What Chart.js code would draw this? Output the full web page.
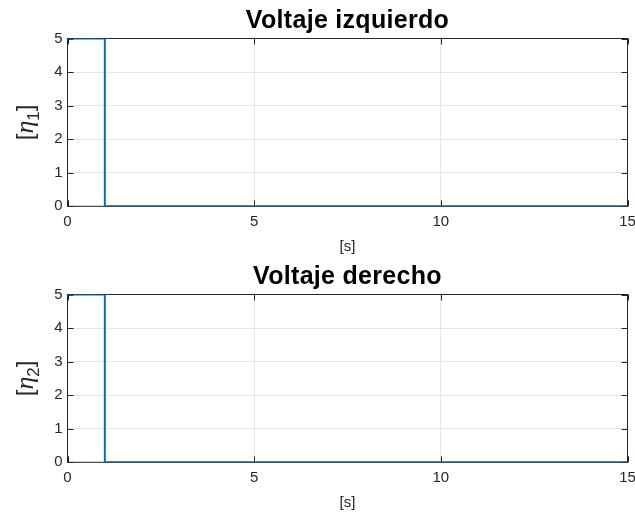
<!DOCTYPE html>
<html>
<head>
<meta charset="utf-8">
<script src="https://cdn.jsdelivr.net/npm/chart.js@4"></script>
<style>
  html, body { margin: 0; padding: 0; background: #fff; }
  #fig { position: relative; width: 635px; height: 516px; }
  canvas { position: absolute; left: 0; }
  #izq { top: 0; }
  #der { top: 256px; }
</style>
</head>
<body>
<div id="fig">
  <canvas id="izq" width="635" height="258"></canvas>
  <canvas id="der" width="635" height="258"></canvas>
</div>
<script>
// Signal samples (time in s, voltage)
const tiempo = [0, 1, 1, 15];
const voltajeIzq = [5, 5, 0, 0];
const voltajeDer = [5, 5, 0, 0];

// Axis ticks
const ticksX = [0, 5, 10, 15];
const ticksY = [0, 1, 2, 3, 4, 5];

const titulos = ['Voltaje izquierdo', 'Voltaje derecho'];
const subindices = ['1', '2'];

const AXIS_COLOR = '#262626';
const GRID_COLOR = '#e6e6e6';
const LINE_COLOR = '#0072BD';
const FONT = '"Liberation Sans", Arial, Helvetica, sans-serif';

// Box around the axes, inward tick marks, title and y label
const ejesPlugin = {
    id: 'ejes',
    beforeDatasetsDraw(chart) {
        const { ctx, chartArea: a, scales } = chart;
        ctx.save();
        ctx.strokeStyle = AXIS_COLOR;
        ctx.lineWidth = 1;
        ctx.strokeRect(a.left, a.top, a.right - a.left, a.bottom - a.top);
        const len = 6;
        ctx.beginPath();
        ticksX.forEach(v => {
            const x = Math.round(scales.x.getPixelForValue(v)) + 0.5;
            ctx.moveTo(x, a.bottom); ctx.lineTo(x, a.bottom - len);
            ctx.moveTo(x, a.top); ctx.lineTo(x, a.top + len);
        });
        ticksY.forEach(v => {
            const y = Math.round(scales.y.getPixelForValue(v)) + 0.5;
            ctx.moveTo(a.left, y); ctx.lineTo(a.left + len, y);
            ctx.moveTo(a.right, y); ctx.lineTo(a.right - len, y);
        });
        ctx.stroke();
        ctx.restore();
    },
    afterDraw(chart, args, opts) {
        const { ctx, chartArea: a } = chart;
        const cx = (a.left + a.right) / 2;
        ctx.save();
        // title
        ctx.fillStyle = '#000';
        ctx.font = 'bold 25px ' + FONT;
        ctx.letterSpacing = '0.3px';
        ctx.textAlign = 'center';
        ctx.textBaseline = 'alphabetic';
        ctx.fillText(opts.titulo, cx, 27.5);
        ctx.letterSpacing = '0px';

        // y label: [η_n], rotated
        const cy = (a.top + a.bottom) / 2;
        const fBr = '24px ' + FONT;
        const fEta = 'italic 26px "Liberation Serif", "DejaVu Serif", serif';
        const fSub = '17px ' + FONT;
        const parts = [
            { t: '[', f: fBr, dy: 0 },
            { t: 'η', f: fEta, dy: 0 },
            { t: opts.sub, f: fSub, dy: 6 },
            { t: ']', f: fBr, dy: 0 }
        ];
        let total = 0;
        parts.forEach(p => { ctx.font = p.f; p.w = ctx.measureText(p.t).width; total += p.w; });
        ctx.translate(33, cy);
        ctx.rotate(-Math.PI / 2);
        ctx.fillStyle = AXIS_COLOR;
        ctx.textAlign = 'left';
        let x = -total / 2;
        parts.forEach(p => {
            ctx.font = p.f;
            ctx.fillText(p.t, x, p.dy);
            x += p.w;
        });
        ctx.restore();
    }
};

function graficar(id, valores, titulo, sub) {
    const puntos = tiempo.map((t, i) => ({ x: t, y: valores[i] }));
    return new Chart(document.getElementById(id), {
        type: 'line',
        data: {
            datasets: [{
                data: puntos,
                borderColor: LINE_COLOR,
                borderWidth: 2,
                pointRadius: 0,
                fill: false,
                tension: 0
            }]
        },
        options: {
            responsive: false,
            animation: false,
            events: [],
            layout: { padding: { left: 0, right: 7.5, top: 38.5, bottom: 0 } },
            plugins: {
                legend: { display: false },
                tooltip: { enabled: false },
                ejes: { titulo: titulo, sub: sub }
            },
            scales: {
                x: {
                    type: 'linear',
                    min: 0, max: 15,
                    afterBuildTicks(scale) { scale.ticks = ticksX.map(v => ({ value: v })); },
                    afterFit(scale) {
                        scale.height = 51.7;
                        scale.paddingLeft = 0;
                        scale.paddingRight = 0;
                    },
                    grid: { color: GRID_COLOR, drawTicks: false },
                    border: { display: false },
                    ticks: { color: AXIS_COLOR, padding: 7, maxRotation: 0, font: { family: FONT, size: 15 } },
                    title: {
                        display: true, text: '[s]', color: AXIS_COLOR,
                        font: { family: FONT, size: 15 },
                        padding: { top: 0, bottom: 2 }
                    }
                },
                y: {
                    type: 'linear',
                    min: 0, max: 5,
                    afterBuildTicks(scale) { scale.ticks = ticksY.map(v => ({ value: v })); },
                    afterFit(scale) {
                        scale.width = 67.5;
                        scale.paddingTop = 0;
                        scale.paddingBottom = 0;
                    },
                    grid: { color: GRID_COLOR, drawTicks: false },
                    border: { display: false },
                    ticks: { color: AXIS_COLOR, padding: 5, font: { family: FONT, size: 15 } }
                }
            }
        },
        plugins: [ejesPlugin]
    });
}

graficar('izq', voltajeIzq, titulos[0], subindices[0]);
graficar('der', voltajeDer, titulos[1], subindices[1]);
</script>
</body>
</html>
